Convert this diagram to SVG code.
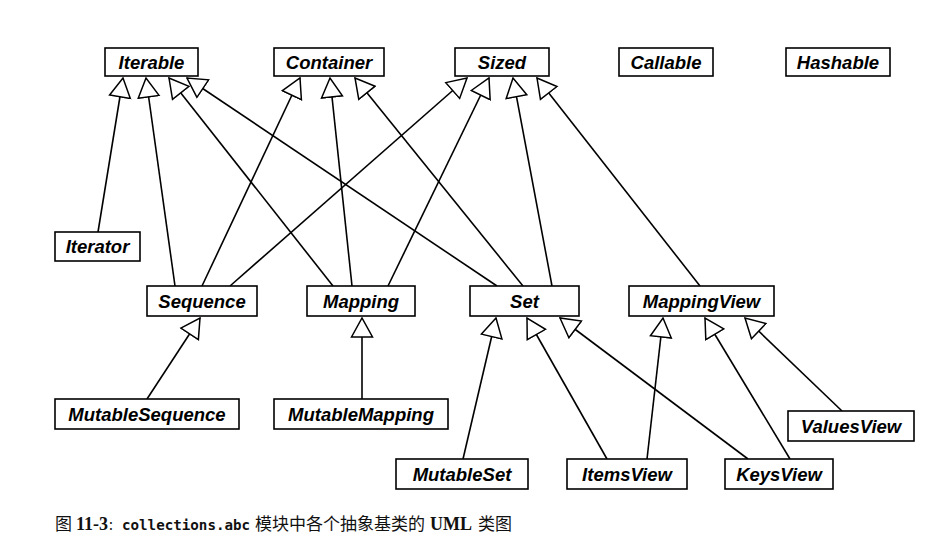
<svg xmlns="http://www.w3.org/2000/svg" width="950" height="543" viewBox="0 0 950 543">
<style>
.box{fill:#fff;stroke:#000;stroke-width:1.6}
.lbl{font-family:"Liberation Sans",Arial,sans-serif;font-weight:bold;font-style:italic;font-size:18.5px;text-anchor:middle;fill:#000}
.con line{stroke:#000;stroke-width:1.6;marker-end:url(#tri)}
.cap{font-size:17px;fill:#111}
</style>
<defs>
<marker id="tri" viewBox="0 0 21 24" refX="20" refY="12" markerWidth="21" markerHeight="24" markerUnits="userSpaceOnUse" orient="auto">
<path d="M1,1.5 L20,12 L1,22.5 Z" fill="#fff" stroke="#000" stroke-width="1.5" stroke-linejoin="miter"/>
</marker>
</defs>
<rect width="950" height="543" fill="#fff"/>
<g id="connectors" class="con">
<line x1="98" y1="232" x2="123" y2="78"/>
<line x1="175" y1="286" x2="146" y2="78"/>
<line x1="333" y1="286" x2="169" y2="78"/>
<line x1="497" y1="286" x2="187" y2="78"/>
<line x1="202" y1="286" x2="300" y2="78"/>
<line x1="352" y1="286" x2="330" y2="78"/>
<line x1="523" y1="286" x2="355" y2="78"/>
<line x1="230" y1="286" x2="467" y2="78"/>
<line x1="388" y1="286" x2="489" y2="78"/>
<line x1="552" y1="286" x2="513" y2="78"/>
<line x1="700" y1="286" x2="537" y2="78"/>
<line x1="147" y1="399" x2="200" y2="318"/>
<line x1="362" y1="399" x2="362" y2="318"/>
<line x1="463" y1="459" x2="496" y2="318"/>
<line x1="607" y1="459" x2="527" y2="318"/>
<line x1="748" y1="459" x2="560" y2="318"/>
<line x1="647" y1="459" x2="663" y2="318"/>
<line x1="790" y1="459" x2="705" y2="318"/>
<line x1="842" y1="411" x2="745" y2="318"/>
</g>
<g id="Iterable"><rect class="box" x="105" y="48" width="93" height="28"/><text class="lbl" x="151.5" y="68.5">Iterable</text></g>
<g id="Container"><rect class="box" x="274" y="48" width="110" height="28"/><text class="lbl" x="329" y="68.5">Container</text></g>
<g id="Sized"><rect class="box" x="455" y="48" width="94" height="28"/><text class="lbl" x="502" y="68.5">Sized</text></g>
<g id="Callable"><rect class="box" x="619" y="48" width="94" height="28"/><text class="lbl" x="666" y="68.5">Callable</text></g>
<g id="Hashable"><rect class="box" x="786" y="48" width="104" height="28"/><text class="lbl" x="838" y="68.5">Hashable</text></g>
<g id="Iterator"><rect class="box" x="55" y="232" width="85" height="29"/><text class="lbl" x="97.5" y="253">Iterator</text></g>
<g id="Sequence"><rect class="box" x="147" y="286" width="110" height="30"/><text class="lbl" x="202" y="307.5">Sequence</text></g>
<g id="Mapping"><rect class="box" x="307" y="286" width="108" height="30"/><text class="lbl" x="361" y="307.5">Mapping</text></g>
<g id="Set"><rect class="box" x="470" y="286" width="109" height="30"/><text class="lbl" x="524.5" y="307.5">Set</text></g>
<g id="MappingView"><rect class="box" x="629" y="286" width="145" height="30"/><text class="lbl" x="701.5" y="307.5">MappingView</text></g>
<g id="MutableSequence"><rect class="box" x="55" y="399" width="184" height="30"/><text class="lbl" x="147" y="420.5">MutableSequence</text></g>
<g id="MutableMapping"><rect class="box" x="274" y="399" width="174" height="30"/><text class="lbl" x="361" y="420.5">MutableMapping</text></g>
<g id="MutableSet"><rect class="box" x="396" y="459" width="132" height="30"/><text class="lbl" x="462" y="480.5">MutableSet</text></g>
<g id="ItemsView"><rect class="box" x="567" y="459" width="120" height="30"/><text class="lbl" x="627" y="480.5">ItemsView</text></g>
<g id="KeysView"><rect class="box" x="725" y="459" width="108" height="30"/><text class="lbl" x="779" y="480.5">KeysView</text></g>
<g id="ValuesView"><rect class="box" x="788" y="411" width="126" height="30"/><text class="lbl" x="851" y="432.5">ValuesView</text></g>
<g id="caption">
<text class="cap" y="530"><tspan x="55" font-family="Noto Sans CJK SC,sans-serif">图</tspan><tspan x="76" font-family="Liberation Serif,serif" font-weight="bold" font-size="18">11-3</tspan><tspan x="109" font-family="Noto Sans CJK SC,sans-serif" font-size="14">:</tspan><tspan x="122" font-family="DejaVu Sans Mono,monospace" font-weight="bold" font-size="14.2">collections.abc</tspan><tspan x="255" font-family="Noto Sans CJK SC,sans-serif">模块中各个抽象基类的</tspan><tspan x="430" font-family="Liberation Serif,serif" font-weight="bold" font-size="18">UML</tspan><tspan x="478" font-family="Noto Sans CJK SC,sans-serif">类图</tspan></text>
</g>
</svg>
